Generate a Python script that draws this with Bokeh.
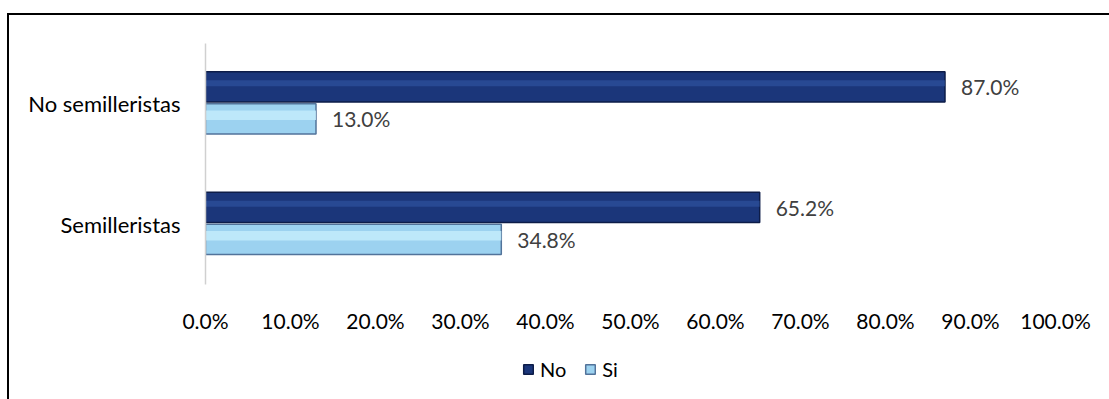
from bokeh.plotting import figure
from bokeh.layouts import column
from bokeh.models import (ColumnDataSource, FactorRange, Range1d, LabelSet, Legend,
                          LegendItem, FixedTicker, InlineStyleSheet)
from bokeh.core.properties import value
from bokeh.transform import dodge
from bokeh.embed import file_html
from bokeh.resources import INLINE

# ---- data ----
categories = ["Semilleristas", "No semilleristas"]
no_values = [65.2, 87.0]
si_values = [34.8, 13.0]
series_names = ["No", "Si"]
x_ticks = [0, 10, 20, 30, 40, 50, 60, 70, 80, 90, 100]
x_tick_labels = ["0.0%", "10.0%", "20.0%", "30.0%", "40.0%", "50.0%",
                 "60.0%", "70.0%", "80.0%", "90.0%", "100.0%"]

FONT = "Lato"
DARK_FILL, DARK_LINE = "#1B367A", "#0D1C48"
LIGHT_FILL, LIGHT_LINE = "#9CD2F0", "#52739A"

src = ColumnDataSource(data=dict(
    cat=categories,
    no=no_values,
    si=si_values,
    no_txt=[f"{v:.1f}%" for v in no_values],
    si_txt=[f"{v:.1f}%" for v in si_values],
))

# ---------------- main chart ----------------
p = figure(frame_width=850, frame_height=241, output_backend="svg", toolbar_location=None,
           y_range=FactorRange(*categories, range_padding=0),
           x_range=Range1d(0, 100),
           min_border_left=205, min_border_right=54,
           min_border_top=43, min_border_bottom=72)
p.outline_line_color = None
p.background_fill_color = "white"
p.border_fill_color = "white"
p.xgrid.grid_line_color = None
p.ygrid.grid_line_color = None

DARK_OFF = 0.14
LIGHT_OFF = -0.125
H = 0.25

p.hbar(y=dodge("cat", DARK_OFF, range=p.y_range), right="no", left=0, height=H,
       source=src, fill_color=DARK_FILL, line_color=DARK_LINE, line_width=1.5)
p.hbar(y=dodge("cat", DARK_OFF + 0.03, range=p.y_range), right="no", left=0, height=0.05,
       source=src, fill_color="#3359A8", line_color=None, fill_alpha=0.55)
p.hbar(y=dodge("cat", LIGHT_OFF, range=p.y_range), right="si", left=0, height=H,
       source=src, fill_color=LIGHT_FILL, line_color=LIGHT_LINE, line_width=1.5)
p.hbar(y=dodge("cat", LIGHT_OFF + 0.03, range=p.y_range), right="si", left=0, height=0.08,
       source=src, fill_color="#C6EDFC", line_color=None, fill_alpha=0.8)

lab_kw = dict(text_font=value(FONT), text_font_size="21px", text_color="#404040",
              text_baseline="middle", x_offset=16)
p.add_layout(LabelSet(x="no", y=dodge("cat", DARK_OFF, range=p.y_range), text="no_txt",
                      source=src, **lab_kw))
p.add_layout(LabelSet(x="si", y=dodge("cat", LIGHT_OFF, range=p.y_range), text="si_txt",
                      source=src, **lab_kw))

xa = p.xaxis[0]
xa.ticker = FixedTicker(ticks=x_ticks)
xa.major_label_overrides = {t: s for t, s in zip(x_ticks, x_tick_labels)}
xa.axis_line_color = None
xa.major_tick_line_color = None
xa.minor_tick_line_color = None
xa.major_label_text_font = FONT
xa.major_label_text_font_size = "21px"
xa.major_label_text_color = "#000000"
xa.major_label_standoff = 17

ya = p.yaxis[0]
ya.axis_line_color = "#D0D0D0"
ya.axis_line_width = 1.5
ya.major_tick_line_color = None
ya.minor_tick_line_color = None
ya.major_label_text_font = FONT
ya.major_label_text_font_size = "22px"
ya.major_label_text_color = "#000000"
ya.major_label_standoff = 19

p.stylesheets = [InlineStyleSheet(css="""
:host::after {
  content: "";
  position: absolute;
  left: 7px; top: 13px; right: 0px; bottom: 0px;
  border-top: 2px solid black;
  border-left: 2px solid black;
  pointer-events: none;
}
""")]

# ---------------- legend strip ----------------
q = figure(frame_width=1109, frame_height=43, output_backend="svg", toolbar_location=None,
           x_axis_type=None, y_axis_type=None,
           y_range=FactorRange(*categories), x_range=Range1d(0, 100),
           min_border_left=0, min_border_right=0, min_border_top=0, min_border_bottom=0)
q.outline_line_color = None
q.xgrid.grid_line_color = None
q.ygrid.grid_line_color = None
l_no = q.hbar(y="cat", right="no", left=0, height=H, source=src,
              fill_color=DARK_FILL, line_color=DARK_LINE, line_width=1.5, visible=False)
l_si = q.hbar(y="cat", right="si", left=0, height=H, source=src,
              fill_color=LIGHT_FILL, line_color=LIGHT_LINE, line_width=1.5, visible=False)

legend = Legend(items=[LegendItem(label=series_names[0], renderers=[l_no]),
                       LegendItem(label=series_names[1], renderers=[l_si])],
                orientation="horizontal", location=(522, 18),
                glyph_width=12, glyph_height=12, label_standoff=6, spacing=18,
                padding=0, margin=0, border_line_color=None,
                background_fill_alpha=0,
                label_text_font=FONT, label_text_font_size="20px",
                label_text_color="#000000")
q.add_layout(legend, "center")
q.stylesheets = [InlineStyleSheet(css="""
:host::after {
  content: "";
  position: absolute;
  left: 7px; top: 0px; bottom: 0px; width: 0px;
  border-left: 2px solid black;
  pointer-events: none;
}
""")]

layout = column(p, q, spacing=0)
open("out.html", "w").write(file_html(layout, INLINE))
